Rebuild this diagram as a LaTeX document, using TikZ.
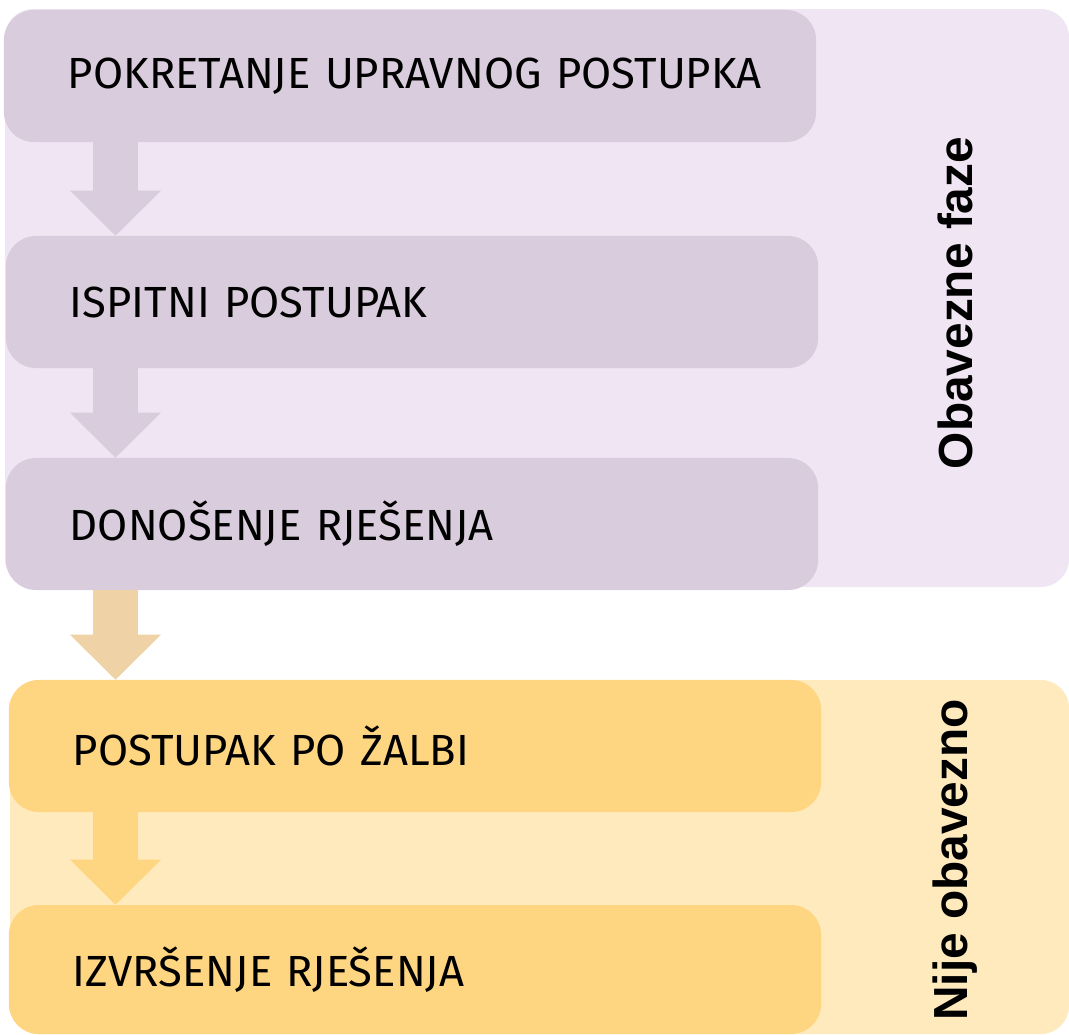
\documentclass[tikz,border=0pt]{standalone}
\usepackage{fontspec}
\setmainfont{Fira Sans}
\newfontfamily\labelfont{Liberation Sans}
\usetikzlibrary{arrows.meta, positioning}

\definecolor{panelpur}{HTML}{F0E5F3}
\definecolor{boxpur}{HTML}{D9CCDC}
\definecolor{arrowtan}{HTML}{EFD3A6}
\definecolor{panelyel}{HTML}{FEEABC}
\definecolor{boxyel}{HTML}{FED580}

\begin{document}
\begin{tikzpicture}[x=0.025cm, y=-0.025cm,
    phase/.style = {rounded corners=0.75cm, minimum height=3.3cm,
      text width=17.1cm, inner xsep=1.6cm, align=left,
      font=\fontsize{31}{36}\selectfont},
    side/.style = {rotate=90, font=\labelfont\bfseries\fontsize{34}{40}\selectfont},
    flow/.style = {line width=1.125cm,
      -{Triangle[width=2.275cm, length=1.125cm, line width=0pt]}}]
    \useasboundingbox (0,0) rectangle (1069,1034);

    % backgrounds
    \fill [panelpur, rounded corners=0.7cm] (5,9) rectangle (1069,587);
    \fill [panelyel, rounded corners=0.7cm] (10,680) rectangle (1069,1034);

    \node (pokr) [phase, fill=boxpur] at (410,76) {\mbox{POKRETANJE UPRAVNOG POSTUPKA}};
    \node (ispit) [phase, fill=boxpur] at (412,302) {ISPITNI POSTUPAK};
    \node (donos) [phase, fill=boxpur] at (412,524) {DONOŠENJE RJEŠENJA};
    \node (zalba) [phase, fill=boxyel] at (415,746) {POSTUPAK PO ŽALBI};
    \node (izvr) [phase, fill=boxyel, minimum height=3.225cm] at (415,969.5) {IZVRŠENJE RJEŠENJA};

    \node (obav) [side] at (955,303) {Obavezne faze};
    \node (nije) [side] at (955,860) {Nije obavezno};

    \coordinate (ax) at (115.5,0);
    \draw [flow, boxpur] (pokr.south -| ax) -- (ispit.north -| ax);
    \draw [flow, boxpur] (ispit.south -| ax) -- (donos.north -| ax);
    \draw [flow, arrowtan] (donos.south -| ax) -- (zalba.north -| ax);
    \draw [flow, boxyel] (zalba.south -| ax) -- (izvr.north -| ax);
\end{tikzpicture}
\end{document}
